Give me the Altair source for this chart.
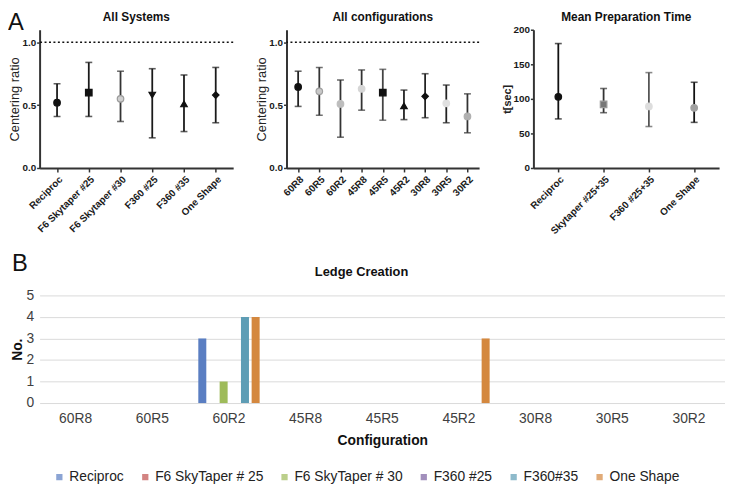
import altair as alt
import pandas as pd

FONT = "Liberation Sans"

# ---------------- data ----------------
sys_names = ["Reciproc", "F6 Skytaper #25", "F6 Skytaper #30", "F360 #25", "F360 #35", "One Shape"]
sys_mean = [0.52, 0.60, 0.55, 0.58, 0.51, 0.58]
sys_lo = [0.41, 0.41, 0.37, 0.24, 0.29, 0.36]
sys_hi = [0.67, 0.84, 0.77, 0.79, 0.74, 0.80]

cfg_names = ["60R8", "60R5", "60R2", "45R8", "45R5", "45R2", "30R8", "30R5", "30R2"]
cfg_mean = [0.645, 0.61, 0.51, 0.63, 0.60, 0.495, 0.57, 0.515, 0.41]
cfg_lo = [0.49, 0.42, 0.245, 0.46, 0.38, 0.385, 0.40, 0.36, 0.28]
cfg_hi = [0.77, 0.80, 0.70, 0.78, 0.785, 0.62, 0.75, 0.66, 0.59]

time_names = ["Reciproc", "Skytaper #25+35", "F360 #25+35", "One Shape"]
time_mean = [103, 92, 89, 87]
time_lo = [71, 80, 60, 66]
time_hi = [180, 115, 138, 124]

ledge_series = ["Reciproc", "F6 SkyTaper # 25", "F6 SkyTaper # 30", "F360 #25", "F360#35", "One Shape"]
ledge_reciproc = [0, 0, 3, 0, 0, 0, 0, 0, 0]
ledge_f6_25 = [0, 0, 0, 0, 0, 0, 0, 0, 0]
ledge_f6_30 = [0, 0, 1, 0, 0, 0, 0, 0, 0]
ledge_f360_25 = [0, 0, 0, 0, 0, 0, 0, 0, 0]
ledge_f360_35 = [0, 0, 4, 0, 0, 0, 0, 0, 0]
ledge_oneshape = [0, 0, 4, 0, 0, 3, 0, 0, 0]

# ---------------- styles ----------------
sys_shape = ["circle", "square", "circle", "triangle-down", "triangle-up", "diamond"]
sys_fill = ["#111111", "#111111", "#cfcfcf", "#111111", "#111111", "#111111"]
sys_stroke = ["#111111", "#111111", "#9a9a9a", "#111111", "#111111", "#111111"]
sys_bar = ["#1a1a1a", "#1a1a1a", "#333333", "#1a1a1a", "#1a1a1a", "#1a1a1a"]

cfg_shape = ["circle", "circle", "circle", "circle", "square", "triangle-up", "diamond", "circle", "circle"]
cfg_fill = ["#111111", "#c8c8c8", "#bdbdbd", "#d6d6d6", "#111111", "#111111", "#111111", "#e0e0e0", "#b0b0b0"]
cfg_stroke = ["#111111", "#a0a0a0", "#bdbdbd", "#d6d6d6", "#111111", "#111111", "#111111", "#e0e0e0", "#b0b0b0"]
cfg_bar = ["#222222", "#333333", "#333333", "#333333", "#444444", "#222222", "#222222", "#222222", "#333333"]

time_shape = ["circle", "square", "circle", "circle"]
time_fill = ["#111111", "#777777", "#dddddd", "#a0a0a0"]
time_stroke = ["#111111", "#999999", "#dddddd", "#a0a0a0"]
time_bar = ["#111111", "#333333", "#555555", "#111111"]

bar_colors = ["#5a7ec2", "#c0504d", "#9ebb5a", "#7a5fa0", "#5e9db5", "#d4883f"]

PANEL_H = 140


def err_panel(names, means, los, his, shapes, fills, strokes, bars, ydomain, yticks, yfmt,
              ytitle, ytitle_weight, ytitle_size, title, width, refline, letter=None):
    df = pd.DataFrame(dict(name=names, mean=means, lo=los, hi=his,
                           shape=shapes, fill=fills, stroke=strokes, bar=bars))
    xaxis = alt.Axis(labelAngle=-45, labelFont=FONT, labelFontSize=10, labelFontWeight="bold",
                     labelColor="#1a1a1a", domainColor="#333333", domainWidth=2,
                     tickColor="#333333", tickWidth=1.5, tickSize=4, labelPadding=2, title=None)
    xenc = alt.X("name:N", sort=names, scale=alt.Scale(type="point", padding=0.55), axis=xaxis)
    yscale = alt.Scale(domain=ydomain, nice=False, zero=True)
    yaxis = alt.Axis(values=yticks, format=yfmt, title=ytitle, grid=False,
                     labelFont=FONT, labelFontSize=10, labelFontWeight="bold", labelColor="#1a1a1a",
                     domainColor="#333333", domainWidth=2, tickColor="#333333", tickWidth=1.5,
                     tickSize=3, labelPadding=1, titleFont=FONT, titleFontSize=ytitle_size,
                     titleFontWeight=ytitle_weight, titleColor="#222222", titlePadding=0)
    base = alt.Chart(df)
    rules = base.mark_rule(strokeWidth=1.8).encode(
        x=xenc, y=alt.Y("lo:Q", scale=yscale, axis=yaxis), y2="hi:Q",
        color=alt.Color("bar:N", scale=None))
    cap_lo = base.mark_tick(orient="horizontal", size=7, thickness=1.6).encode(
        x=xenc, y=alt.Y("lo:Q", scale=yscale, axis=yaxis), color=alt.Color("bar:N", scale=None))
    cap_hi = base.mark_tick(orient="horizontal", size=7, thickness=1.6).encode(
        x=xenc, y=alt.Y("hi:Q", scale=yscale, axis=yaxis), color=alt.Color("bar:N", scale=None))
    pts = base.mark_point(filled=True, opacity=1, size=44, strokeWidth=1.2).encode(
        x=xenc, y=alt.Y("mean:Q", scale=yscale, axis=yaxis),
        shape=alt.Shape("shape:N", scale=None),
        fill=alt.Fill("fill:N", scale=None),
        stroke=alt.Stroke("stroke:N", scale=None))
    layers = [rules, cap_lo, cap_hi, pts]
    if refline is not None:
        ref = alt.Chart(pd.DataFrame({"ref": [refline]})).mark_rule(
            strokeDash=[2, 2.5], strokeWidth=1.5, color="#111111").encode(
            y=alt.Y("ref:Q", scale=yscale, axis=yaxis))
        layers.append(ref)
    ttl = alt.Chart(pd.DataFrame({"t": [title]})).mark_text(
        font=FONT, fontSize=12, fontWeight="bold", color="#111111",
        align="center", baseline="middle").encode(
        text="t:N", x=alt.value(width / 2), y=alt.value(-13))
    layers.append(ttl)
    if letter is not None:
        lt = alt.Chart(pd.DataFrame({"t": [letter]})).mark_text(
            fontSize=24, font=FONT, align="left", baseline="middle", color="#111111").encode(
            text="t:N", x=alt.value(-32), y=alt.value(-7))
        layers.append(lt)
    return alt.layer(*layers).properties(width=width, height=PANEL_H)


p1 = err_panel(sys_names, sys_mean, sys_lo, sys_hi, sys_shape, sys_fill, sys_stroke, sys_bar,
               [0, 1.1], [0, 0.5, 1.0], ".1f", "Centering ratio", "normal", 13,
               "All Systems", 196, 1.0, letter="A")
p2 = err_panel(cfg_names, cfg_mean, cfg_lo, cfg_hi, cfg_shape, cfg_fill, cfg_stroke, cfg_bar,
               [0, 1.1], [0, 0.5, 1.0], ".1f", "Centering ratio", "normal", 13,
               "All configurations", 195, 1.0)
p3 = err_panel(time_names, time_mean, time_lo, time_hi, time_shape, time_fill, time_stroke, time_bar,
               [0, 200], [0, 50, 100, 150, 200], "d", "t[sec]", "bold", 11,
               "Mean Preparation Time", 188, None)

top = alt.hconcat(p1, p2, p3, spacing=22)

# ---------------- bar chart ----------------
ledge_all = [ledge_reciproc, ledge_f6_25, ledge_f6_30, ledge_f360_25, ledge_f360_35, ledge_oneshape]
rows = []
for s, counts in zip(ledge_series, ledge_all):
    for c, v in zip(cfg_names, counts):
        rows.append({"config": c, "series": s, "count": v})
ledge_df = pd.DataFrame(rows)

BAR_W = 694
bars = alt.Chart(ledge_df).mark_bar().encode(
    x=alt.X("config:N", sort=cfg_names,
            scale=alt.Scale(paddingInner=0.2, paddingOuter=0.07),
            axis=alt.Axis(title="Configuration", labelAngle=0, domain=False, ticks=False,
                          labelFont=FONT, labelFontSize=14, labelColor="#404040", labelPadding=9,
                          titleFont=FONT, titleFontSize=14, titleFontWeight="bold",
                          titleColor="#111111", titlePadding=8)),
    xOffset=alt.XOffset("series:N", sort=ledge_series, scale=alt.Scale(paddingInner=0.25)),
    y=alt.Y("count:Q", scale=alt.Scale(domain=[0, 5], nice=False),
            axis=alt.Axis(values=[0, 1, 2, 3, 4, 5], title="No.", grid=True, gridColor="#d9d9d9",
                          gridWidth=1, domain=False, ticks=False, labelPadding=6,
                          labelFont=FONT, labelFontSize=14, labelColor="#404040",
                          titleFont=FONT, titleFontSize=14, titleFontWeight="bold",
                          titleColor="#111111", titlePadding=2)),
    color=alt.Color("series:N", sort=ledge_series,
                    scale=alt.Scale(domain=ledge_series, range=bar_colors),
                    legend=alt.Legend(title=None, orient="none", direction="horizontal", columns=6,
                                      legendX=13, legendY=446, symbolType="square", symbolSize=40,
                                      symbolStrokeWidth=0, labelFont=FONT, labelFontSize=14,
                                      labelColor="#222222", labelOffset=3, columnPadding=14)),
)
letter_b = alt.Chart(pd.DataFrame({"t": ["B"]})).mark_text(
    fontSize=24, font=FONT, align="left", baseline="middle", color="#111111").encode(
    text="t:N", x=alt.value(-28), y=alt.value(-32))
title_b = alt.Chart(pd.DataFrame({"t": ["Ledge Creation"]})).mark_text(
    fontSize=13, font=FONT, fontWeight="bold", align="center", baseline="middle",
    color="#111111").encode(text="t:N", x=alt.value(326), y=alt.value(-24))

bottom = alt.layer(bars, letter_b, title_b).properties(width=BAR_W, height=109)

chart = alt.vconcat(top, bottom, spacing=16).properties(
    padding={"left": 0, "top": 0, "right": 0, "bottom": 0}
).configure(font=FONT, view=alt.ViewConfig(stroke=None))

chart.save("out.html", embed_options={"renderer": "svg", "actions": False})
